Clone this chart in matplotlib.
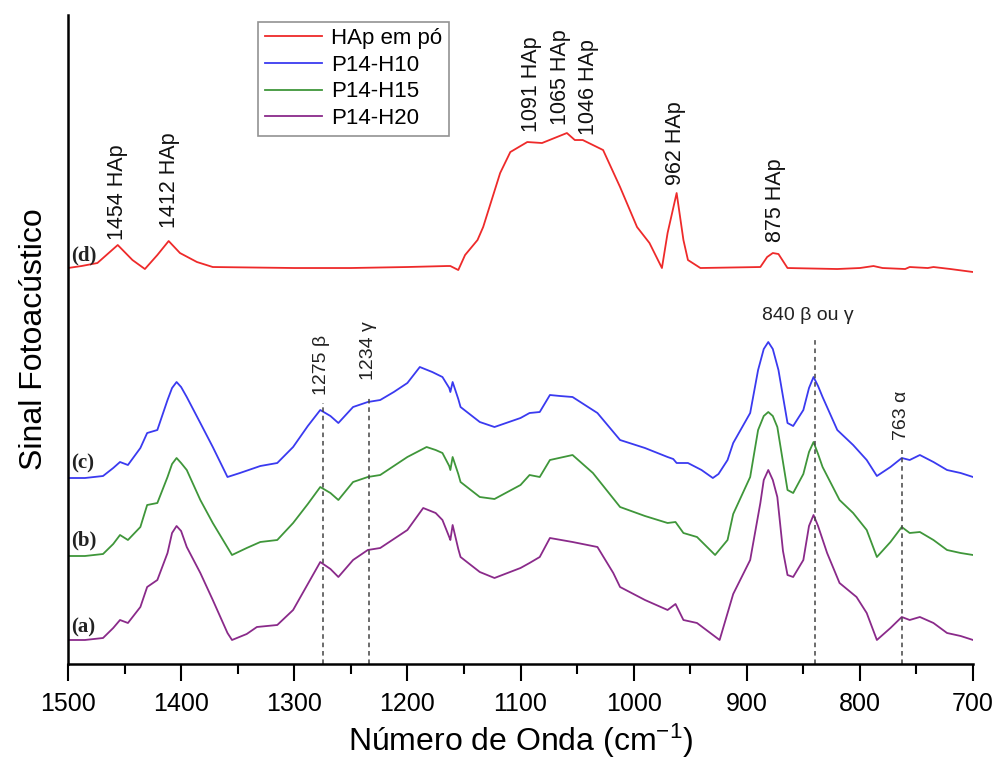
import matplotlib
matplotlib.use("Agg")
import matplotlib.pyplot as plt
from matplotlib.ticker import MultipleLocator

plt.rcParams['font.family'] = ['Liberation Sans', 'DejaVu Sans']
plt.rcParams['mathtext.default'] = 'regular'

# espectros fotoacústicos (número de onda, sinal em unidades arbitrárias)
wn_d = [1500, 1488, 1474, 1456, 1443, 1432, 1421, 1411, 1401, 1386, 1372, 1300, 1250,
        1200, 1165, 1162, 1155, 1149, 1138, 1133, 1118, 1109, 1094, 1081, 1070, 1059,
        1052, 1045, 1027, 1012, 997, 986, 975, 970, 962, 956, 952, 941, 888, 882, 877,
        872, 864, 820, 800, 788, 780, 760, 756, 740, 735, 720, 700]
sig_d = [396, 398, 401, 419, 404, 395, 409, 423, 411, 402, 397, 396, 396,
         397, 398, 398, 394, 409, 424, 437, 491, 512, 522, 521, 526, 531,
         524, 524, 514, 477, 437, 421, 396, 431, 471, 424, 404, 396, 397, 407, 411,
         410, 396, 395, 396, 398, 396, 395, 397, 396, 397, 395, 392]

wn_c = [1500, 1485, 1469, 1460, 1454, 1447, 1436, 1430, 1421, 1412, 1408, 1404, 1400,
        1395, 1383, 1372, 1359, 1348, 1330, 1315, 1301, 1288, 1277, 1268, 1261, 1248,
        1235, 1224, 1212, 1200, 1189, 1178, 1169, 1163, 1162, 1160, 1155, 1153, 1136,
        1123, 1100, 1092, 1083, 1074, 1065, 1054, 1032, 1012, 990, 970, 965, 962, 952,
        940, 930, 925, 917, 912, 897, 890, 885, 881, 877, 872, 864, 859, 850, 845, 841,
        837, 833, 820, 806, 794, 785, 773, 763, 756, 747, 735, 723, 711, 700]
sig_c = [186, 186, 188, 196, 202, 199, 216, 231, 234, 264, 276, 282, 277,
         267, 241, 217, 187, 191, 198, 201, 217, 238, 254, 248, 241, 257,
         262, 264, 272, 281, 297, 292, 287, 276, 272, 282, 265, 257, 242,
         237, 246, 251, 252, 269, 268, 267, 251, 224, 216, 207, 205, 201, 201,
         194, 186, 190, 204, 221, 251, 294, 315, 322, 315, 294, 241, 238, 254, 276, 287,
         278, 267, 234, 219, 204, 188, 197, 206, 204, 209, 202, 194, 191, 187]

wn_b = [1500, 1485, 1469, 1460, 1454, 1447, 1436, 1430, 1421, 1412, 1408, 1404, 1400,
        1395, 1383, 1372, 1355, 1342, 1330, 1315, 1301, 1288, 1277, 1268, 1261, 1248,
        1235, 1224, 1212, 1200, 1183, 1175, 1169, 1163, 1162, 1160, 1155, 1153, 1136,
        1123, 1100, 1092, 1083, 1074, 1054, 1036, 1012, 990, 970, 963, 956, 944, 928,
        917, 912, 897, 890, 885, 881, 877, 873, 864, 859, 850, 845, 841, 837, 833, 818,
        806, 794, 785, 773, 763, 756, 747, 735, 723, 711, 700]
sig_b = [108, 108, 110, 120, 129, 124, 137, 159, 161, 187, 200, 206, 201,
         194, 164, 141, 109, 116, 122, 124, 141, 160, 177, 171, 164, 182,
         187, 189, 198, 207, 217, 214, 211, 198, 194, 207, 190, 182, 167,
         165, 179, 189, 187, 204, 209, 191, 157, 148, 141, 142, 131, 127, 109,
         124, 150, 187, 234, 248, 252, 248, 237, 174, 171, 190, 212, 222, 210, 197, 164,
         151, 134, 107, 122, 137, 131, 132, 124, 114, 111, 109]

wn_a = [1500, 1485, 1469, 1460, 1454, 1447, 1436, 1430, 1421, 1412, 1408, 1404, 1400,
        1395, 1383, 1372, 1359, 1355, 1342, 1333, 1315, 1301, 1288, 1277, 1268, 1261,
        1248, 1235, 1224, 1212, 1200, 1186, 1175, 1169, 1163, 1162, 1160, 1155, 1153,
        1136, 1123, 1100, 1092, 1083, 1074, 1054, 1032, 1018, 1012, 990, 970, 963, 956,
        944, 924, 912, 897, 888, 885, 881, 877, 873, 868, 864, 859, 850, 845, 841, 837,
        829, 818, 803, 794, 785, 773, 763, 756, 747, 735, 723, 711, 700]
sig_a = [24, 24, 26, 36, 44, 41, 57, 77, 84, 111, 131, 138, 133,
         117, 91, 64, 31, 24, 30, 37, 39, 54, 80, 102, 95, 87,
         104, 114, 116, 125, 134, 156, 151, 144, 127, 124, 139, 115, 107,
         92, 86, 96, 101, 107, 126, 122, 117, 91, 77, 64, 54, 60, 44,
         41, 24, 70, 104, 161, 184, 194, 184, 167, 113, 89, 87, 104, 138, 149, 138,
         111, 81, 67, 51, 24, 36, 47, 44, 47, 41, 31, 28, 24]

series_names = ['HAp em pó', 'P14-H10', 'P14-H15', 'P14-H20']
series_colors = ['#ee2a2a', '#3a3af0', '#3f963a', '#8a2a8a']

# bandas marcadas com linhas tracejadas: posição e topo da linha
band_pos = [1275, 1234, 840, 763]
band_top = [261, 267, 327, 214]

# rótulos das bandas da HAp: texto, posição, altura da base
hap_text = ['1454 HAp', '1412 HAp', '1091 HAp', '1065 HAp', '1046 HAp', '962 HAp', '875 HAp']
hap_x = [1456, 1410, 1090, 1065, 1040, 963, 875]
hap_y = [424, 436, 532, 539, 529, 479, 422]

curve_tags = ['(d)', '(c)', '(b)', '(a)']
tag_y = [409, 201, 124, 37]

fig = plt.figure(figsize=(9.98, 7.67), dpi=100)
ax = fig.add_axes([0.0681, 0.1343, 0.9069, 0.8461])

for wn, sig, name, col in zip([wn_d, wn_c, wn_b, wn_a], [sig_d, sig_c, sig_b, sig_a],
                              series_names, series_colors):
    ax.plot(wn, sig, color=col, lw=1.3, label=name)

ax.vlines(band_pos, 0, band_top, colors='#444444', linestyles=(0, (3, 2.5)), lw=1.1)

ax.text(1276, 269, '1275 β', rotation=90, ha='center', va='bottom', fontsize=14, color='#222222')
ax.text(1234, 284, '1234 γ', rotation=90, ha='center', va='bottom', fontsize=14, color='#222222')
ax.text(846, 349, '840 β ou γ', ha='center', va='center', fontsize=14, color='#222222')
ax.text(763, 224, '763 α', rotation=90, ha='center', va='bottom', fontsize=14, color='#222222')

for t, x, y in zip(hap_text, hap_x, hap_y):
    ax.text(x, y, t, rotation=90, ha='center', va='bottom', fontsize=15.5, color='#111111')

for t, y in zip(curve_tags, tag_y):
    ax.text(1497, y, t, ha='left', va='center', fontsize=15, fontweight='bold',
            family=['Liberation Serif', 'DejaVu Serif'], color='#222222')

ax.set_xlim(1500, 700)
ax.set_ylim(0, 649)
ax.xaxis.set_major_locator(MultipleLocator(100))
ax.xaxis.set_minor_locator(MultipleLocator(50))
ax.tick_params(axis='x', which='major', direction='out', length=12, width=1.5,
               labelsize=18, pad=8)
ax.tick_params(axis='x', which='minor', direction='out', length=7, width=1.5)
ax.set_yticks([])
for side in ['top', 'right']:
    ax.spines[side].set_visible(False)
for side in ['left', 'bottom']:
    ax.spines[side].set_linewidth(1.8)

ax.set_xlabel('Número de Onda (cm$^{-1}$)', fontsize=23, labelpad=4)
ax.set_ylabel('Sinal Fotoacústico', fontsize=23, labelpad=14)

leg = ax.legend(loc='upper left', bbox_to_anchor=(0.21, 0.99), fontsize=16,
                frameon=True, fancybox=False, edgecolor='#777777', handlelength=2.6,
                borderpad=0.3, labelspacing=0.25, handletextpad=0.4, borderaxespad=0)
leg.get_frame().set_linewidth(1.2)

fig.savefig('out.png', dpi=100)
